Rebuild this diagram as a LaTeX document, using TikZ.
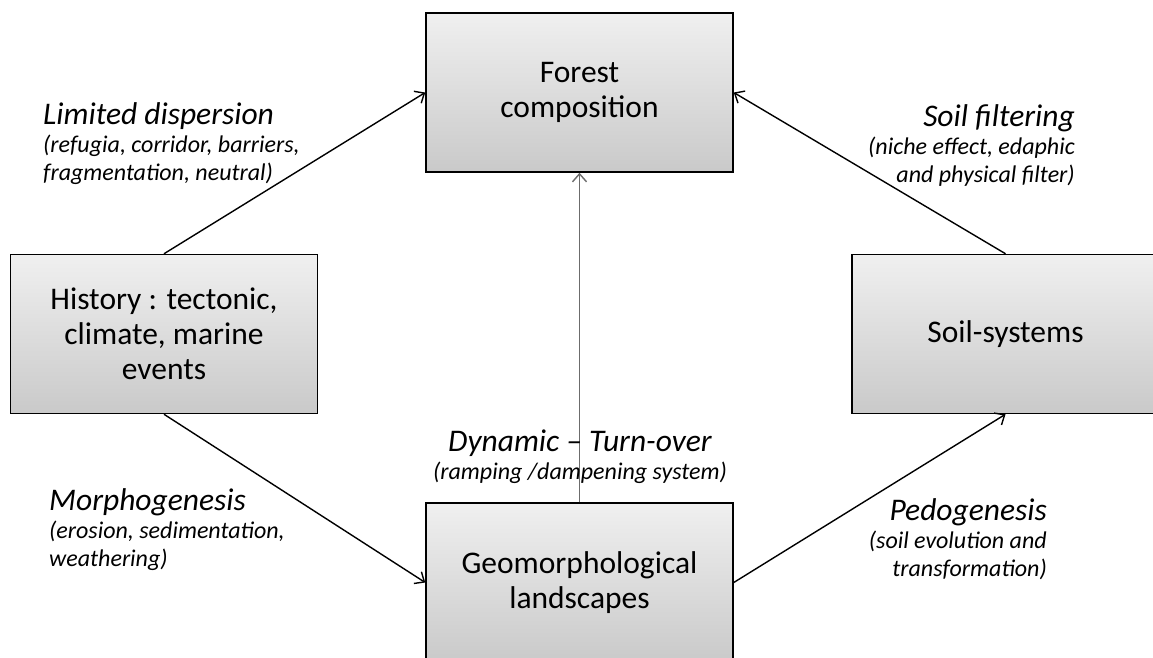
\documentclass[tikz,border=0pt]{standalone}
\usepackage{fontspec}
\setmainfont{Carlito}
\usetikzlibrary{arrows,arrows.meta}

\begin{document}
\begin{tikzpicture}[x=1pt,y=-1pt,>={Straight Barb[length=8pt,width=14pt]},box node/.style={rectangle,draw=black,line width=1.5pt,top color=gray!12,bottom color=gray!42,minimum width=307pt,minimum height=159pt,align=center,font=\fontsize{31.5}{35}\selectfont},label node/.style={inner sep=0pt,font=\fontsize{24}{28}\selectfont\itshape}]
  \useasboundingbox (0,0) rectangle (1153,657);
  \clip (0,0) rectangle (1153,657);

  \node[box node] (forest) at (579.5,92.5) {Forest\\composition};
  \node[box node] (history) at (164,334) {History : tectonic,\\climate, marine\\events};
  \node[box node] (soil) at (1005.5,334) {Soil-systems};
  \node[box node] (geo) at (579.5,582.5) {Geomorphological\\landscapes};

\path[->,line width=1.4pt]
  (history.north) edge (forest.west)
  (soil.north) edge (forest.east)
  (history.south) edge (geo.west)
  (geo.east) edge (soil.south)
  (geo.north) edge[draw=gray!85!black,line width=1.4pt] (forest.south)
;

  % base anchor sits on the last line
  \node[label node,anchor=base west,align=left] (dispersion) at (43,180) {{\fontsize{31.5}{28}\selectfont Limited dispersion}\\(refugia, corridor, barriers,\\fragmentation, neutral)};
  \node[label node,anchor=base east,align=right] (filtering) at (1075,182) {{\fontsize{31.5}{28}\selectfont Soil filtering}\\(niche effect, edaphic\\and physical filter)};
  \node[label node,anchor=base,align=center] (turnover) at (580,479) {{\fontsize{31.5}{28}\selectfont Dynamic -- Turn-over}\\(ramping /dampening system)};
  \node[label node,anchor=base west,align=left] (morpho) at (49,566) {{\fontsize{31.5}{28}\selectfont Morphogenesis}\\(erosion, sedimentation,\\weathering)};
  \node[label node,anchor=base east,align=right] (pedo) at (1047,576) {{\fontsize{31.5}{28}\selectfont Pedogenesis}\\(soil evolution and\\transformation)};
\end{tikzpicture}
\end{document}
